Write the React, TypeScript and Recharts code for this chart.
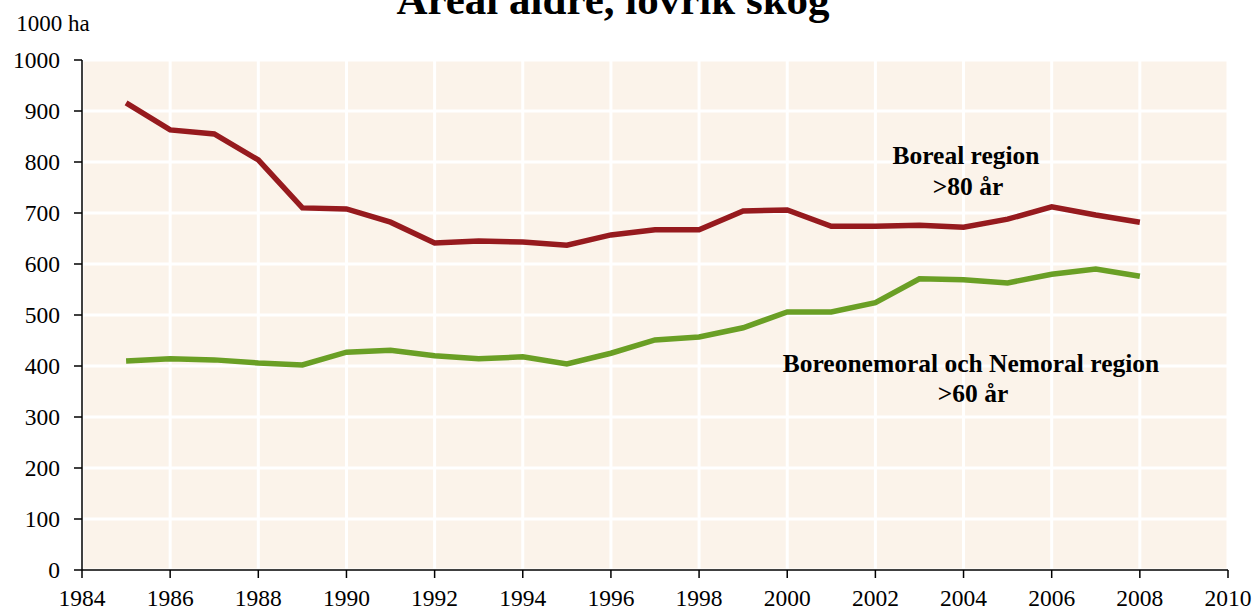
import { LineChart, Line, XAxis, YAxis, CartesianGrid } from 'recharts';

const years = [1985, 1986, 1987, 1988, 1989, 1990, 1991, 1992, 1993, 1994, 1995, 1996, 1997, 1998, 1999, 2000, 2001, 2002, 2003, 2004, 2005, 2006, 2007, 2008];
const boreal = [916, 863, 855, 804, 710, 708, 682, 641, 645, 643, 637, 657, 667, 667, 704, 706, 674, 674, 676, 672, 688, 712, 696, 682];
const nemoral = [410, 414, 412, 406, 402, 427, 431, 420, 414, 418, 404, 425, 451, 457, 475, 506, 506, 524, 571, 569, 563, 580, 590, 576];
const xTicks = [1984, 1986, 1988, 1990, 1992, 1994, 1996, 1998, 2000, 2002, 2004, 2006, 2008, 2010];
const yTicks = [0, 100, 200, 300, 400, 500, 600, 700, 800, 900, 1000];

const data = years.map((year, i) => ({ year, boreal: boreal[i], nemoral: nemoral[i] }));

const FONT = '"Liberation Serif", "Times New Roman", serif';

const XTick = ({ x, y, payload }: any) => (
  <text x={x} y={y + 26} textAnchor="middle" fontFamily={FONT} fontSize={23.5} fill="#000">
    {payload.value}
  </text>
);

const YTick = ({ x, y, payload }: any) => (
  <text x={x - 12} y={y + 8} textAnchor="end" fontFamily={FONT} fontSize={23.5} fill="#000">
    {payload.value}
  </text>
);

// plain text placed over the chart, centred on `left`
const overlay = (left: number, top: number, size: number, bold: boolean, text: string) => (
  <div
    style={{
      position: 'absolute',
      left: left - 300,
      top,
      width: 600,
      textAlign: 'center',
      fontFamily: FONT,
      fontSize: size,
      fontWeight: bold ? 'bold' : 'normal',
      lineHeight: 1,
      whiteSpace: 'nowrap',
      color: '#000',
    }}
  >
    {text}
  </div>
);

export default function App() {
  return (
    <div style={{ position: 'absolute', left: 0, top: 0, width: 1252, height: 610, background: '#fff', overflow: 'hidden' }}>
      <LineChart width={1252} height={610} data={data} margin={{ top: 60, right: 24, left: 22, bottom: 10 }}>
        <CartesianGrid fill="#FBF3EA" stroke="#FFFFFF" strokeWidth={3} horizontalValues={yTicks} verticalValues={xTicks} />
        <XAxis
          dataKey="year"
          type="number"
          domain={[1984, 2010]}
          ticks={xTicks}
          height={30}
          tick={<XTick />}
          tickSize={8}
          stroke="#000"
          strokeWidth={1.5}
          interval={0}
        />
        <XAxis xAxisId="top" orientation="top" dataKey="year" type="number" domain={[1984, 2010]} height={0} tick={false} tickLine={false} stroke="#333" strokeWidth={1.5} />
        <YAxis
          domain={[0, 1000]}
          ticks={yTicks}
          width={60}
          tick={<YTick />}
          tickSize={8}
          stroke="#000"
          strokeWidth={1.5}
          interval={0}
        />
        <YAxis yAxisId="right" orientation="right" domain={[0, 1000]} width={0} tick={false} tickLine={false} stroke="#000" strokeWidth={1.5} />
        <Line dataKey="boreal" stroke="#961A1E" strokeWidth={5.5} dot={false} isAnimationActive={false} />
        <Line dataKey="nemoral" stroke="#6A9F25" strokeWidth={5.5} dot={false} isAnimationActive={false} />
      </LineChart>
      {overlay(613, -22, 43, true, 'Areal äldre, lövrik skog')}
      {overlay(53, 12, 23, false, '1000 ha')}
      {overlay(966, 143, 25.5, true, 'Boreal region')}
      {overlay(968, 174, 25.5, true, '>80 år')}
      {overlay(971, 351, 25.5, true, 'Boreonemoral och Nemoral region')}
      {overlay(973, 381, 25.5, true, '>60 år')}
    </div>
  );
}
